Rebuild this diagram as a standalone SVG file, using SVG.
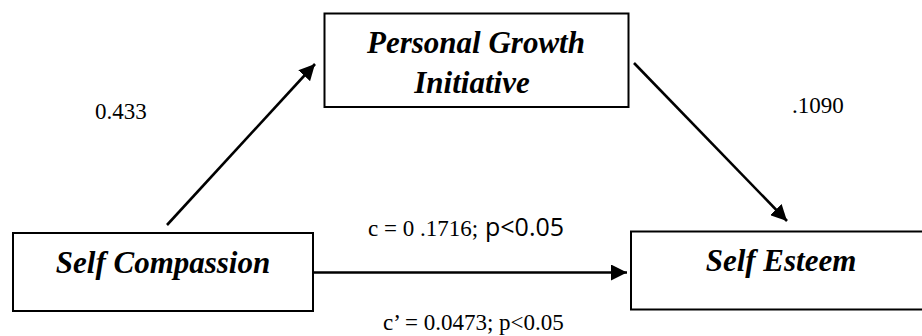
<svg xmlns="http://www.w3.org/2000/svg" width="922" height="336" viewBox="0 0 922 336">
<style>
.box{fill:#fff;stroke:#000;stroke-width:2}
.title{font-family:'Liberation Serif',serif;font-weight:bold;font-style:italic;font-size:31px;fill:#000;text-anchor:middle}
.lbl{font-family:'Liberation Serif',serif;font-size:23px;fill:#000}
.sans{font-family:'Open Sans','Liberation Sans',sans-serif;font-size:25px}
.conn{stroke:#000;stroke-width:2.6;fill:none;marker-end:url(#ah)}
</style>
<defs>
<marker id="ah" markerUnits="userSpaceOnUse" markerWidth="17" markerHeight="16" refX="16" refY="8" orient="auto">
<path d="M0,0 L16,8 L0,16 z" fill="#000"/>
</marker>
</defs>
<rect width="922" height="336" fill="#fff"/>
<g id="connectors">
<line class="conn" x1="167" y1="225" x2="315" y2="64"/>
<line class="conn" x1="634" y1="63" x2="787" y2="221"/>
<line class="conn" x1="313" y1="272.5" x2="627" y2="272.5"/>
</g>
<g id="node-pgi">
<rect class="box" x="324.5" y="13.5" width="304" height="93.5"/>
<text class="title" x="476" y="53">Personal Growth</text>
<text class="title" x="472" y="93">Initiative</text>
</g>
<g id="node-sc">
<rect class="box" x="13" y="233" width="300" height="78"/>
<text class="title" x="163" y="273">Self Compassion</text>
</g>
<g id="node-se">
<rect class="box" x="631" y="231.5" width="300" height="78"/>
<text class="title" x="781" y="271">Self Esteem</text>
</g>
<g id="labels">
<text class="lbl" x="95" y="119">0.433</text>
<text class="lbl" x="792" y="113">.1090</text>
<text class="lbl" x="368" y="236">c = 0 .1716;<tspan class="sans" x="485">p&lt;0.05</tspan></text>
<text class="lbl" x="383" y="330">c’ = 0.0473; p&lt;0.05</text>
</g>
</svg>
